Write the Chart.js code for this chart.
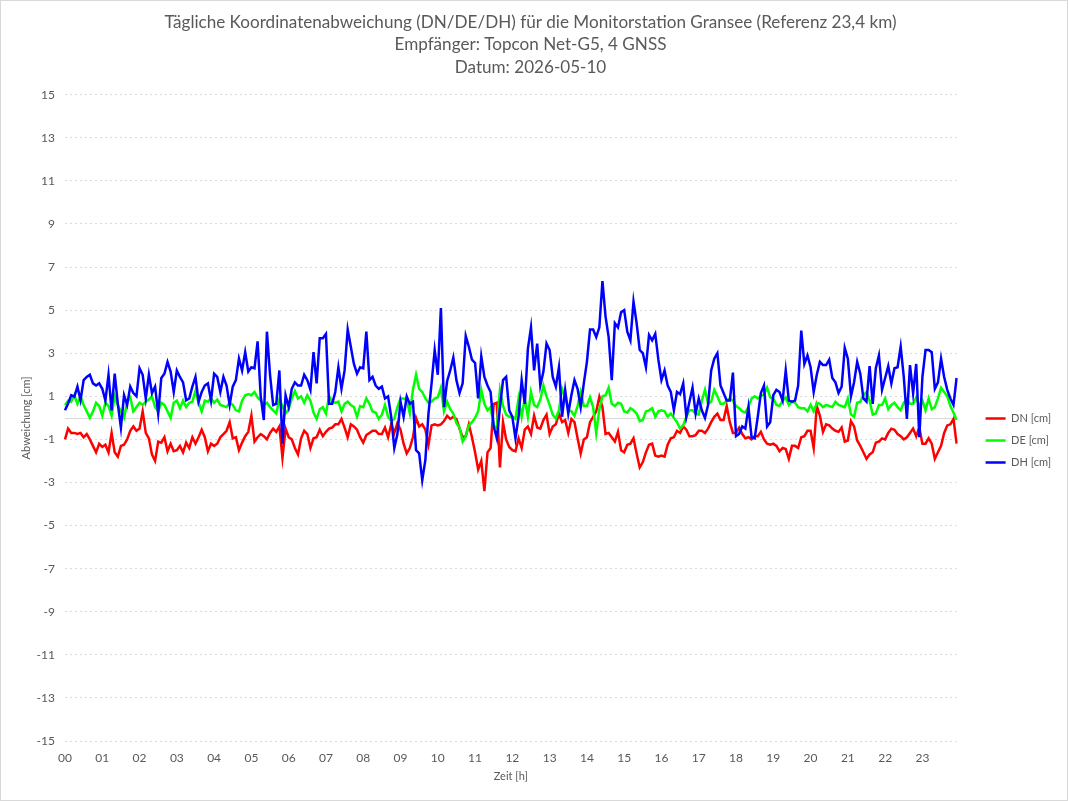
<!DOCTYPE html>
<html>
<head>
<meta charset="utf-8">
<title>Koordinatenabweichung Gransee</title>
<script src="https://cdn.jsdelivr.net/npm/chart.js@4.4.1/dist/chart.umd.min.js"></script>
<style>
  html, body { margin: 0; padding: 0; background: #ffffff; }
  #wrap { width: 1068px; height: 801px; }
</style>
</head>
<body>
<div id="wrap"><canvas id="chart" width="1068" height="801"></canvas></div>
<script>
// Hour labels on the x axis (one sample every 5 minutes)
const hours = ['00','01','02','03','04','05','06','07','08','09','10','11',
               '12','13','14','15','16','17','18','19','20','21','22','23'];
const samplesPerHour = 12;

const yTicks = { min: -15, max: 15, step: 2 };

// DN [cm] - one row per 2 hours
const dnValues = [
  -1.0,-0.5,-0.7,-0.7,-0.75,-0.7,-0.9,-0.75,-1.0,-1.3,-1.6,-1.2,-1.35,-1.25,-1.6,-0.7,-1.6,-1.8,-1.3,-1.25,-1.0,-0.6,-0.4,-0.6,
  -0.5,0.3,-0.7,-0.95,-1.7,-2.0,-1.1,-1.15,-0.9,-1.55,-1.2,-1.55,-1.5,-1.3,-1.6,-1.15,-1.4,-0.9,-1.2,-0.9,-0.55,-0.9,-1.55,-1.2,
  -1.3,-1.2,-0.9,-0.75,-0.6,-0.2,-0.95,-0.9,-1.5,-1.15,-0.85,-0.65,0.1,-1.1,-0.9,-0.75,-0.85,-1.0,-0.7,-0.5,-0.65,-0.4,-1.85,-0.5,
  -0.9,-1.0,-1.4,-1.7,-0.95,-0.6,-0.75,-1.4,-0.95,-0.9,-0.55,-0.85,-0.65,-0.5,-0.45,-0.3,-0.3,-0.05,-0.45,-0.9,-0.3,-0.4,-0.55,-0.9,
  -1.15,-0.8,-0.7,-0.6,-0.6,-0.75,-0.75,-0.45,-0.9,-0.3,-0.7,-0.25,-0.55,-1.2,-1.65,-1.4,-0.9,0.0,-0.4,-0.3,-0.55,-1.25,-0.35,-0.3,
  -0.35,-0.3,-0.15,0.1,-0.05,0.05,-0.05,-0.5,-0.9,-0.85,-0.3,-0.9,-1.6,-2.4,-2.0,-3.4,-1.6,-1.4,0.65,0.7,-2.3,-0.2,-1.0,-1.35,
  -1.5,-1.55,-0.95,-1.4,-0.55,-0.4,-0.75,0.1,-0.45,-0.5,-0.1,0.15,-0.75,-0.4,-0.3,0.2,-0.2,-0.1,-0.7,-0.05,-0.2,-0.95,-1.65,-1.0,
  -0.9,-0.2,0.05,0.3,0.98,0.5,-0.75,-0.7,-0.9,-1.1,-0.65,-1.5,-1.6,-1.25,-1.2,-0.95,-1.65,-2.3,-2.05,-1.6,-1.25,-1.2,-1.75,-1.8,
  -1.75,-1.8,-1.25,-0.95,-0.9,-0.6,-0.7,-0.4,-0.55,-0.85,-0.85,-0.8,-0.6,-0.6,-0.7,-0.5,-0.2,0.05,0.2,-0.1,-0.1,0.55,-0.2,-0.7,
  -0.7,-0.45,-0.75,-0.95,-0.9,-1.0,-0.85,-0.85,-0.65,-1.0,-1.2,-1.25,-1.2,-1.3,-1.55,-1.4,-1.45,-1.9,-1.3,-1.3,-1.4,-0.9,-0.85,-0.6,
  -0.6,-1.4,0.55,0.1,-0.65,-0.3,-0.35,-0.5,-0.6,-0.65,-0.45,-1.1,-1.05,-0.15,-0.4,-1.05,-1.3,-1.6,-1.9,-1.7,-1.6,-1.15,-1.1,-0.95,
  -1.0,-0.7,-0.5,-0.55,-0.75,-0.85,-1.0,-0.9,-0.7,-0.5,-0.85,-0.45,-1.2,-1.2,-0.95,-1.2,-1.9,-1.6,-1.3,-0.7,-0.35,-0.3,-0.05,-1.2
];

// DE [cm]
const deValues = [
  0.6,0.8,0.75,1.05,0.65,1.0,0.6,0.3,0.0,0.3,0.7,0.55,0.1,0.7,0.55,0.1,1.0,0.6,0.3,0.0,0.75,0.95,0.3,0.5,
  0.7,0.6,0.75,0.85,1.0,0.5,0.3,0.7,0.6,0.3,0.0,0.7,0.8,0.45,0.8,0.5,0.7,0.75,1.25,0.7,0.3,0.8,0.75,0.9,
  0.7,0.85,0.6,0.55,0.5,0.7,0.6,0.35,0.3,0.8,1.05,1.1,1.05,1.2,0.95,0.8,0.6,0.7,0.5,0.35,0.2,0.85,0.55,0.2,
  0.4,0.9,1.25,0.9,1.0,0.7,1.05,0.8,0.25,-0.05,0.4,0.5,0.2,1.0,0.75,0.7,0.75,0.3,0.65,0.75,0.6,0.5,0.05,0.55,
  0.5,0.9,0.65,0.3,0.25,-0.05,0.15,0.6,0.05,-0.15,-0.05,0.5,0.9,0.9,0.85,0.2,1.3,2.0,1.35,1.2,0.9,0.7,0.75,0.9,
  0.95,1.4,0.3,0.75,0.4,0.2,-0.25,-0.45,-1.1,-0.85,-0.35,-0.2,0.0,0.3,1.3,0.65,0.35,0.5,-0.4,-0.45,1.3,0.55,0.15,0.05,
  0.05,-0.05,0.9,0.05,0.9,0.05,1.2,0.6,0.5,0.85,1.5,1.0,0.6,0.15,-0.03,0.35,1.35,1.0,0.35,0.3,0.1,0.55,1.2,0.55,
  0.55,0.95,0.5,-0.7,0.4,1.0,1.05,1.4,0.65,0.55,0.7,0.65,0.3,0.25,0.45,0.35,0.2,-0.15,-0.1,0.3,0.35,0.45,0.05,0.3,
  0.35,0.3,0.05,0.2,0.0,-0.2,-0.5,-0.35,0.05,0.35,0.35,0.2,0.15,0.8,1.3,0.65,0.75,1.3,1.0,0.65,0.65,0.8,0.9,0.8,
  0.55,0.45,0.3,0.25,0.5,0.9,1.0,0.9,1.0,1.1,1.4,0.95,0.9,0.6,0.55,0.8,0.95,0.6,0.75,0.7,0.5,0.45,0.45,0.3,
  0.6,0.3,0.7,0.65,0.5,0.6,0.55,0.5,0.75,0.6,0.55,0.5,0.9,0.15,0.05,0.7,0.75,1.05,1.2,0.8,0.15,0.2,0.6,0.6,
  0.9,0.4,0.6,0.7,0.5,0.35,0.7,0.85,0.65,0.65,0.95,0.55,0.8,0.35,0.9,0.4,0.5,0.9,1.4,1.2,1.0,0.55,0.25,-0.1
];

// DH [cm]
const dhValues = [
  0.35,0.67,1.05,0.98,1.45,0.82,1.75,1.9,2.0,1.6,1.5,1.6,1.35,0.8,2.0,0.35,2.05,0.65,-0.45,1.05,0.6,1.45,1.15,1.0,
  2.3,2.0,0.9,2.0,1.15,1.45,0.2,1.85,2.05,2.6,2.15,1.2,2.2,1.9,1.65,0.82,0.9,1.45,1.9,0.75,1.2,1.5,1.6,0.8,
  2.05,1.9,1.2,1.9,1.5,0.6,1.45,1.75,2.75,2.2,3.05,2.15,2.35,2.3,3.55,1.0,-0.1,4.0,2.0,0.6,0.65,2.2,-1.2,1.05,
  0.5,1.35,1.65,1.5,1.5,2.0,1.75,1.3,3.05,1.6,3.7,3.7,3.9,0.65,0.65,1.2,2.35,1.35,2.2,4.1,3.3,2.5,2.05,2.35,
  2.3,4.0,1.75,1.9,1.5,1.35,1.45,0.9,1.0,0.05,-1.4,-0.75,0.75,0.05,1.0,0.65,0.75,-1.5,-1.65,-2.9,-1.95,0.2,1.6,3.15,
  2.0,5.1,0.5,1.7,2.2,2.8,1.75,1.15,1.6,3.8,3.3,2.7,2.55,0.9,2.85,1.9,1.5,1.2,-0.4,-0.95,0.45,1.75,1.9,0.35,
  0.05,-0.95,0.05,1.75,0.65,3.2,4.2,2.2,3.45,1.5,2.15,3.45,3.15,1.9,1.45,2.35,0.05,1.3,0.2,1.05,1.75,1.35,0.5,1.6,
  2.6,4.1,4.1,3.75,4.2,6.35,4.7,3.75,1.75,4.4,4.2,4.9,5.0,4.0,3.6,5.4,4.4,3.15,3.0,2.35,3.85,3.6,3.9,2.7,
  1.75,2.2,1.5,1.2,0.35,1.2,1.1,1.6,0.05,0.75,1.4,0.2,0.9,0.35,0.0,0.6,2.2,2.75,3.0,1.5,1.15,0.8,0.8,2.1,
  -0.85,-0.75,-0.4,-0.5,0.5,-0.9,-0.95,0.05,1.15,1.5,-0.4,-0.2,1.05,1.3,1.2,0.8,2.2,0.8,0.75,0.8,1.5,4.05,2.5,2.9,
  2.35,1.2,2.0,2.6,2.45,2.45,2.7,1.85,1.65,1.15,1.45,3.25,2.75,1.0,1.65,2.6,2.05,0.9,0.75,2.4,0.65,2.3,2.9,1.3,
  1.85,2.4,1.6,2.3,2.35,3.3,1.9,-0.05,2.45,1.15,2.5,-0.9,1.9,3.15,3.15,3.05,1.35,1.65,2.75,1.9,1.3,0.9,0.6,1.85
];

const seriesNames = ['DN [cm]', 'DE [cm]', 'DH [cm]'];
const seriesColors = ['#ff0000', '#00ff00', '#0000ff'];

// one label per 5-minute slot, only the full hour gets shown
const labels = [];
hours.forEach(function(h) {
    for (let m = 0; m < samplesPerHour; m++) {
        labels.push(h + ':' + String(m * 5).padStart(2, '0'));
    }
});

const textColor = '#595959';
const fontFamily = 'Lato, "Open Sans", sans-serif';

// white background + thin frame like the exported picture
const frame = {
    id: 'frame',
    beforeDraw(chart) {
        const ctx = chart.ctx;
        ctx.save();
        ctx.fillStyle = '#ffffff';
        ctx.fillRect(0, 0, chart.width, chart.height);
        ctx.strokeStyle = '#d9d9d9';
        ctx.lineWidth = 1;
        ctx.strokeRect(0.5, 0.5, chart.width - 1, chart.height - 1);
        ctx.restore();
    }
};

// solid line at 0 (horizontal axis crossing)
const zeroLine = {
    id: 'zeroLine',
    beforeDatasetsDraw(chart) {
        const {ctx, chartArea, scales} = chart;
        const py = Math.round(scales.y.getPixelForValue(0)) + 0.5;
        ctx.save();
        ctx.strokeStyle = '#d9d9d9';
        ctx.lineWidth = 1;
        ctx.beginPath();
        ctx.moveTo(chartArea.left, py);
        ctx.lineTo(chartArea.right, py);
        ctx.stroke();
        ctx.restore();
    }
};

// legend sits a bit lower than Chart.js centres it
const legendShift = {
    id: 'legendShift',
    afterLayout(chart) {
        if (chart.legend) {
            chart.legend.top += 40;
            chart.legend.bottom += 40;
        }
    }
};

const allValues = [dnValues, deValues, dhValues];

new Chart(document.getElementById('chart'), {
    type: 'line',
    data: {
        labels: labels,
        datasets: allValues.map(function(vals, i) {
            return {
                label: seriesNames[i],
                data: vals,
                borderColor: seriesColors[i],
                backgroundColor: seriesColors[i],
                borderWidth: 2.5,
                pointRadius: 0,
                tension: 0,
                fill: false,
                order: 3 - i
            };
        })
    },
    options: {
        responsive: false,
        animation: false,
        devicePixelRatio: 1,
        layout: { padding: { left: 0, right: 7, top: 0, bottom: 0 } },
        scales: {
            x: {
                type: 'category',
                offset: false,
                grid: { display: false, drawTicks: false },
                border: { display: false },
                ticks: {
                    autoSkip: false,
                    maxRotation: 0,
                    padding: 10,
                    color: textColor,
                    font: { family: fontFamily, size: 12 },
                    callback: function(value, index) {
                        return index % samplesPerHour === 0 ? hours[index / samplesPerHour] : '';
                    }
                },
                title: {
                    display: true,
                    text: 'Zeit [h]',
                    color: textColor,
                    font: { family: fontFamily, size: 11 },
                    padding: { top: 4, bottom: 18 }
                },
                afterFit: function(scale) { scale.height = 60; }
            },
            y: {
                min: yTicks.min,
                max: yTicks.max,
                grid: { color: '#d9d9d9', drawTicks: false, lineWidth: 1 },
                border: { display: false, dash: [2, 3] },
                ticks: {
                    stepSize: yTicks.step,
                    padding: 10,
                    color: textColor,
                    font: { family: fontFamily, size: 12 }
                },
                title: {
                    display: true,
                    text: 'Abweichung [cm]',
                    color: textColor,
                    font: { family: fontFamily, size: 11 },
                    padding: { top: 20, bottom: 0 }
                },
                afterFit: function(scale) { scale.width = 65; }
            },
            spacer: {
                type: 'linear',
                position: 'right',
                display: true,
                grid: { display: false, drawTicks: false },
                border: { display: false },
                ticks: { display: false },
                afterFit: function(scale) { scale.width = 18; }
            }
        },
        plugins: {
            title: {
                display: true,
                text: [
                    'Tägliche Koordinatenabweichung (DN/DE/DH) für die Monitorstation Gransee (Referenz 23,4 km)',
                    'Empfänger: Topcon Net-G5, 4 GNSS',
                    'Datum: 2026-05-10'
                ],
                color: textColor,
                font: { family: fontFamily, size: 17.1, weight: 'normal', lineHeight: 1.32 },
                padding: { top: 11, bottom: 16 }
            },
            legend: {
                position: 'right',
                labels: {
                    usePointStyle: true,
                    pointStyle: 'line',
                    pointStyleWidth: 20,
                    padding: 11,
                    color: textColor,
                    font: { family: fontFamily, size: 11 },
                    sort: function(a, b) { return a.datasetIndex - b.datasetIndex; }
                }
            },
            tooltip: { enabled: false }
        }
    },
    plugins: [frame, zeroLine, legendShift]
});
</script>
</body>
</html>
